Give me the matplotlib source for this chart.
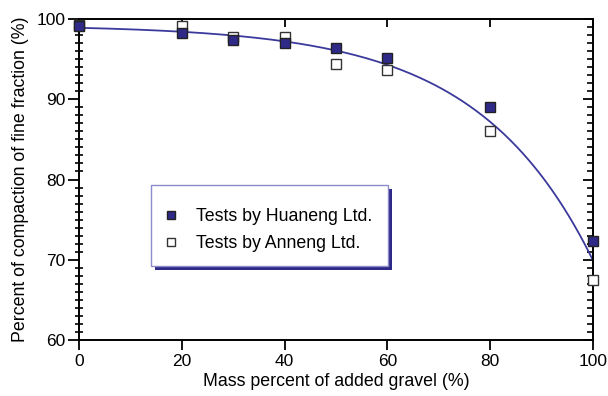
import numpy as np
import matplotlib
matplotlib.use('Agg')
import matplotlib.pyplot as plt
from matplotlib.patches import Rectangle
from matplotlib.ticker import MultipleLocator

plt.rcParams['font.family'] = ['Liberation Sans', 'DejaVu Sans']

# gravel content (%) and compaction of fine fraction (%)
gravel = [0, 20, 30, 40, 50, 60, 80, 100]
huaneng = [99.1, 98.2, 97.4, 97.0, 96.4, 95.2, 89.0, 72.3]
anneng = [99.3, 99.1, 97.8, 97.7, 94.4, 93.6, 86.0, 67.5]

# trend curve y = A - B*exp(c*x), least squares over both test series
x_all = np.array(gravel + gravel, dtype=float)
y_all = np.array(huaneng + anneng)
best = None
for c in np.linspace(0.01, 0.1, 901):
    M = np.column_stack([np.ones_like(x_all), -np.exp(c * x_all)])
    sol, res, *_ = np.linalg.lstsq(M, y_all, rcond=None)
    err = np.sum((M @ sol - y_all) ** 2)
    if best is None or err < best[0]:
        best = (err, c, sol)
_, c_fit, (A_fit, B_fit) = best
xs = np.linspace(0, 100, 300)
ys = A_fit - B_fit * np.exp(c_fit * xs)

navy = '#2f2a88'

fig = plt.figure(figsize=(6.08, 3.96), dpi=100)
ax = fig.add_axes([0.130, 0.1414, 0.845, 0.8106])

ax.plot(xs, ys, color='#3b3a9c', lw=1.3, zorder=2)
ax.plot(gravel, anneng, ls='none', marker='s', ms=7.5, mfc='white',
        mec='#333333', mew=1.0, label='Tests by Anneng Ltd.', zorder=3,
        clip_on=False)
ax.plot(gravel, huaneng, ls='none', marker='s', ms=7.5, mfc=navy,
        mec='#222222', mew=1.0, label='Tests by Huaneng Ltd.', zorder=4,
        clip_on=False)

ax.set_xlim(0, 100)
ax.set_ylim(60, 100)
ax.xaxis.set_major_locator(MultipleLocator(20))
ax.yaxis.set_major_locator(MultipleLocator(10))
ax.yaxis.set_minor_locator(MultipleLocator(1))

for s in ax.spines.values():
    s.set_linewidth(1.4)

ax.tick_params(axis='x', which='major', direction='out', length=7, width=1.3,
               top=True, labelsize=12.5, pad=3)
ax.tick_params(axis='x', which='minor', bottom=False, top=False)
ax.tick_params(axis='y', which='major', direction='out', length=8, width=1.3,
               right=True, labelsize=12.5, pad=2)
ax.tick_params(axis='y', which='minor', direction='inout', length=6, width=1.2,
               right=True)
# top/right ticks point into the frame
for t in ax.xaxis.get_major_ticks():
    t.tick2line.set_marker(3)
    t.tick2line.set_markersize(6)
for t in ax.yaxis.get_major_ticks():
    t.tick2line.set_marker(0)
    t.tick2line.set_markersize(7)
for t in ax.yaxis.get_minor_ticks():
    t.tick2line.set_marker(0)
    t.tick2line.set_markersize(4.5)

ax.set_xlabel('Mass percent of added gravel (%)', fontsize=12.8, labelpad=3)
ax.set_ylabel('Percent of compaction of fine fraction (%)', fontsize=12.8,
              labelpad=5)

# legend box with a solid drop shadow
bx, by, bw, bh = 0.140, 0.2305, 0.461, 0.2525
ax.add_patch(Rectangle((bx + 0.008, by - 0.0125), bw, bh, transform=ax.transAxes,
                       facecolor=navy, edgecolor='none', zorder=5))
ax.add_patch(Rectangle((bx, by), bw, bh, transform=ax.transAxes,
                       facecolor='white', edgecolor='#8c8ccc', lw=1.0, zorder=6))

handles, labels = ax.get_legend_handles_labels()
leg = ax.legend(handles[::-1], labels[::-1], loc='upper left',
                bbox_to_anchor=(0.165, 0.41), frameon=False,
                fontsize=12.8, markerscale=0.7, handlelength=0.8,
                handletextpad=1.0, borderpad=0, labelspacing=0.56,
                borderaxespad=0)
leg.set_zorder(7)

fig.savefig('out.png', dpi=100)
